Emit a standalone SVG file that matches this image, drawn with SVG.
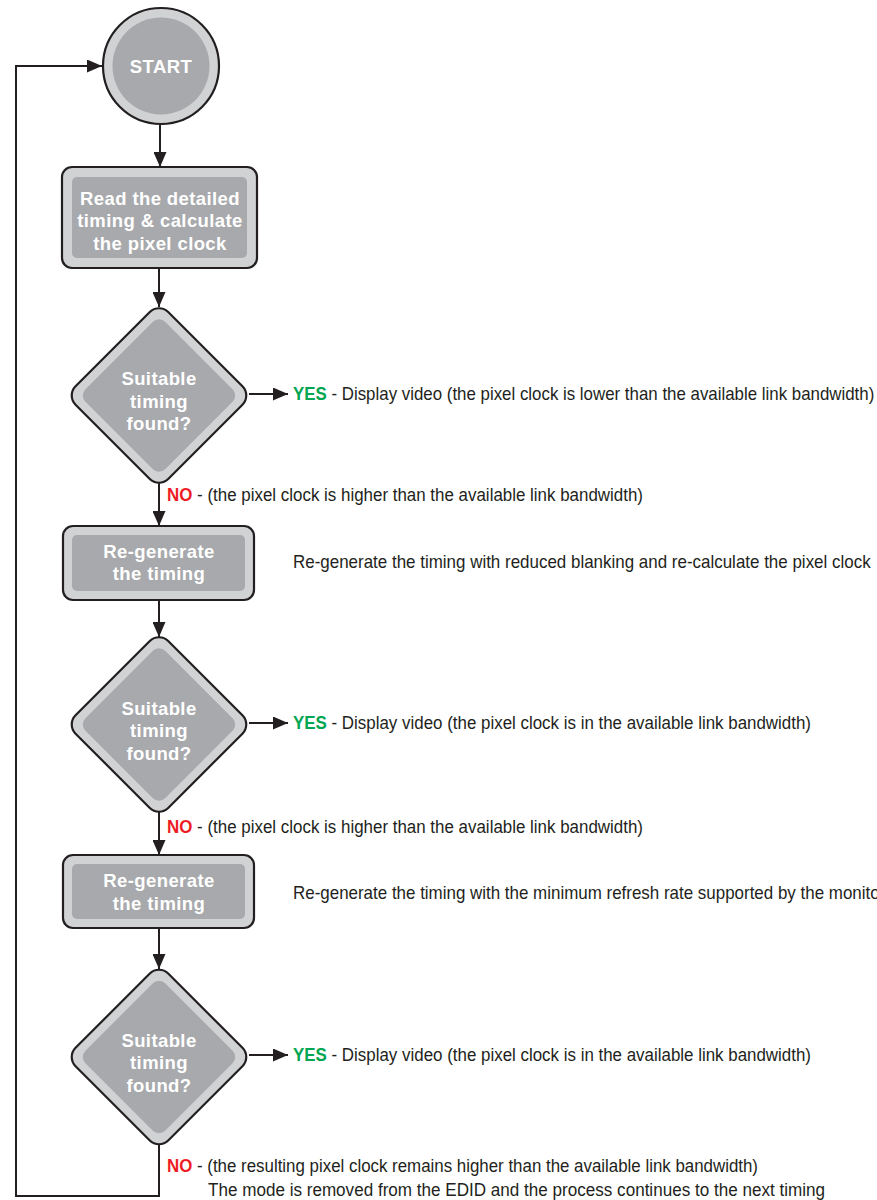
<svg xmlns="http://www.w3.org/2000/svg" width="877" height="1200" viewBox="0 0 877 1200">
<style>
.outer{fill:#d1d2d4;stroke:#231f20;stroke-width:2.2}
.inner{fill:#a7a9ac;stroke:none}
.lbl{font-family:"Liberation Sans",Arial,sans-serif;font-weight:bold;font-size:18.5px;letter-spacing:0.4px;fill:#ffffff;text-anchor:middle}
.txt{font-family:"Liberation Sans",Arial,sans-serif;font-size:17.5px;fill:#231f20}
.yes{fill:#00a651;font-weight:bold}
.no{fill:#ed1c24;font-weight:bold}
.con{fill:none;stroke:#231f20;stroke-width:2}
</style>
<defs>
<marker id="arr" markerUnits="userSpaceOnUse" markerWidth="15" markerHeight="13" refX="15" refY="6.5" orient="auto">
<path d="M0,0 L15,6.5 L0,13 Z" fill="#231f20"/>
</marker>
</defs>
<rect width="877" height="1200" fill="#ffffff"/>
<g id="connectors">
<path class="con" d="M159,1145 V1196 H16 V66 H102" marker-end="url(#arr)"/>
<path class="con" d="M160,125 V167" marker-end="url(#arr)"/>
<path class="con" d="M159,269 V307" marker-end="url(#arr)"/>
<path class="con" d="M249,394 H288" marker-end="url(#arr)"/>
<path class="con" d="M159,483 V526" marker-end="url(#arr)"/>
<path class="con" d="M159,600 V637" marker-end="url(#arr)"/>
<path class="con" d="M249,723 H288" marker-end="url(#arr)"/>
<path class="con" d="M159,812 V855" marker-end="url(#arr)"/>
<path class="con" d="M159,928 V969" marker-end="url(#arr)"/>
<path class="con" d="M249,1055 H288" marker-end="url(#arr)"/>
</g>
<g id="start">
<circle class="outer" cx="161" cy="66" r="58"/>
<circle class="inner" cx="161" cy="66" r="48.5"/>
<text class="lbl" x="161" y="72.5">START</text>
</g>
<g id="read">
<rect class="outer" x="62" y="167" width="195" height="101" rx="10"/>
<rect class="inner" x="72" y="177" width="175" height="81" rx="5"/>
<text class="lbl" x="160" y="204.5">Read the detailed</text>
<text class="lbl" x="160" y="227">timing &amp; calculate</text>
<text class="lbl" x="160" y="249.5">the pixel clock</text>
</g>
<g id="decision1">
<rect class="outer" x="93.5" y="330" width="131" height="131" rx="13" transform="rotate(45 159 395.5)"/>
<rect class="inner" x="102.5" y="339" width="113" height="113" rx="9" transform="rotate(45 159 395.5)"/>
<text class="lbl" x="159" y="385">Suitable</text>
<text class="lbl" x="159" y="408">timing</text>
<text class="lbl" x="159" y="430">found?</text>
</g>
<g id="regen1">
<rect class="outer" x="63" y="526" width="191" height="74" rx="10"/>
<rect class="inner" x="72" y="535" width="173" height="56" rx="5"/>
<text class="lbl" x="159" y="557.5">Re-generate</text>
<text class="lbl" x="159" y="580">the timing</text>
</g>
<g id="decision2">
<rect class="outer" x="93.5" y="659" width="131" height="131" rx="13" transform="rotate(45 159 724.5)"/>
<rect class="inner" x="102.5" y="668" width="113" height="113" rx="9" transform="rotate(45 159 724.5)"/>
<text class="lbl" x="159" y="714.5">Suitable</text>
<text class="lbl" x="159" y="737">timing</text>
<text class="lbl" x="159" y="759.5">found?</text>
</g>
<g id="regen2">
<rect class="outer" x="63" y="855" width="191" height="73" rx="10"/>
<rect class="inner" x="72" y="864" width="173" height="55" rx="5"/>
<text class="lbl" x="159" y="887">Re-generate</text>
<text class="lbl" x="159" y="909.5">the timing</text>
</g>
<g id="decision3">
<rect class="outer" x="93.5" y="991.5" width="131" height="131" rx="13" transform="rotate(45 159 1057)"/>
<rect class="inner" x="102.5" y="1000.5" width="113" height="113" rx="9" transform="rotate(45 159 1057)"/>
<text class="lbl" x="159" y="1046.5">Suitable</text>
<text class="lbl" x="159" y="1069">timing</text>
<text class="lbl" x="159" y="1091.5">found?</text>
</g>
<g id="labels">
<text class="txt" transform="translate(293,400) scale(0.914,1)" x="0" y="0" textLength="636" lengthAdjust="spacingAndGlyphs"><tspan class="yes">YES</tspan> - Display video (the pixel clock is lower than the available link bandwidth)</text>
<text class="txt" x="167" y="501" textLength="476" lengthAdjust="spacingAndGlyphs"><tspan class="no">NO</tspan> - (the pixel clock is higher than the available link bandwidth)</text>
<text class="txt" transform="translate(293,568) scale(0.914,1)" x="0" y="0" textLength="632" lengthAdjust="spacingAndGlyphs">Re-generate the timing with reduced blanking and re-calculate the pixel clock</text>
<text class="txt" x="293" y="729" textLength="518" lengthAdjust="spacingAndGlyphs"><tspan class="yes">YES</tspan> - Display video (the pixel clock is in the available link bandwidth)</text>
<text class="txt" x="167" y="833" textLength="476" lengthAdjust="spacingAndGlyphs"><tspan class="no">NO</tspan> - (the pixel clock is higher than the available link bandwidth)</text>
<text class="txt" transform="translate(293,899) scale(0.914,1)" x="0" y="0" textLength="648" lengthAdjust="spacingAndGlyphs">Re-generate the timing with the minimum refresh rate supported by the monitor</text>
<text class="txt" x="293" y="1061" textLength="518" lengthAdjust="spacingAndGlyphs"><tspan class="yes">YES</tspan> - Display video (the pixel clock is in the available link bandwidth)</text>
<text class="txt" x="167" y="1172" textLength="591" lengthAdjust="spacingAndGlyphs"><tspan class="no">NO</tspan> - (the resulting pixel clock remains higher than the available link bandwidth)</text>
<text class="txt" x="208" y="1196" textLength="617" lengthAdjust="spacingAndGlyphs">The mode is removed from the EDID and the process continues to the next timing</text>
</g>
</svg>
